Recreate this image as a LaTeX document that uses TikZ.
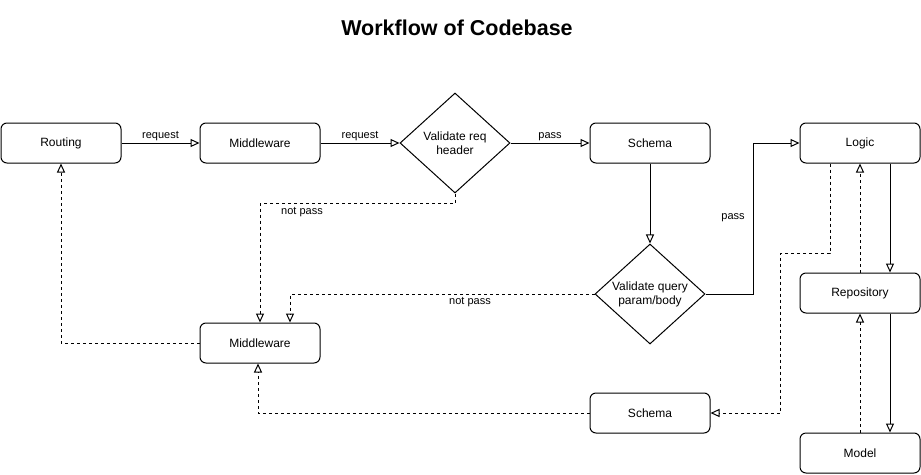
\documentclass[tikz,border=0pt]{standalone}
\usepackage{fontspec}
\setmainfont{Liberation Sans}
\usetikzlibrary{arrows.meta, shapes.geometric, positioning}

\begin{document}
\begin{tikzpicture}[
    x=1pt, y=-1pt,
    >={Triangle[open, length=9pt, width=8pt]},
    box/.style ={draw, rounded corners=6pt, line width=1pt, align=center,
                 minimum width=120pt, minimum height=40pt, inner sep=0pt,
                 font=\fontsize{12}{14}\selectfont, fill=white},
    check/.style={draw, diamond, line width=1pt, align=center,
                 minimum width=110pt, minimum height=100pt, inner sep=-12pt,
                 font=\fontsize{12}{14}\selectfont, fill=white},
    lbl/.style ={font=\fontsize{11}{13}\selectfont, inner sep=1pt},
    flow/.style={->, line width=1pt},
    back/.style={->, line width=1pt, dash pattern=on 3pt off 3pt},
]
\useasboundingbox (0,0) rectangle (921,474);
\node[font=\bfseries\fontsize{21.5}{24}\selectfont] (title) at (457,28) {Workflow of Codebase};

\node[box]   (rout)  at (61,143)  {Routing};
\node[box]   (mw1)   at (260,143) {Middleware};
\node[check] (hdr)   at (455,143) {Validate req\\header};
\node[box]   (sch1)  at (650,143) {Schema};
\node[box]   (logic) at (860,143) {Logic};
\node[check] (qry)   at (650,294) {Validate query\\param/body};
\node[box]   (repo)  at (860,293) {Repository};
\node[box]   (mw2)   at (260,343) {Middleware};
\node[box]   (sch2)  at (650,413) {Schema};
\node[box]   (model) at (860,453) {Model};

% request path
\draw[flow] (rout) -- node[lbl, above=1pt] {request} (mw1);
\draw[flow] (mw1) -- node[lbl, above=1pt] {request} (hdr);
\draw[flow] (hdr) -- node[lbl, above=1pt] {pass} (sch1);
\draw[flow] (sch1) -- (qry);
\draw[flow] (qry.east) -- ++(48,0) |- (logic.west);
\node[lbl] (passq) at (733,218) {pass};
\draw[flow] ([xshift=30pt]logic.south) -- ([xshift=30pt]repo.north);
\draw[flow] ([xshift=30pt]repo.south) -- ([xshift=30pt]model.north);

% failures
\draw[back] (hdr.south) -- ++(0,10) -| (mw2.north);
\node[lbl] (nphdr) at (302,212) {not pass};
\draw[back] (qry.west) -| ([xshift=30pt]mw2.north);
\node[lbl] (npqry) at (470,302) {not pass};

% response path
\draw[back] (model.north) -- (repo.south);
\draw[back] (repo.north) -- (logic.south);
\draw[back] ([xshift=-30pt]logic.south) -- ++(0,90) -- ++(-50,0) |- (sch2.east);
\draw[back] (sch2.west) -| ([xshift=-2pt]mw2.south);
\draw[back] (mw2.west) -| (rout.south);
\end{tikzpicture}
\end{document}
